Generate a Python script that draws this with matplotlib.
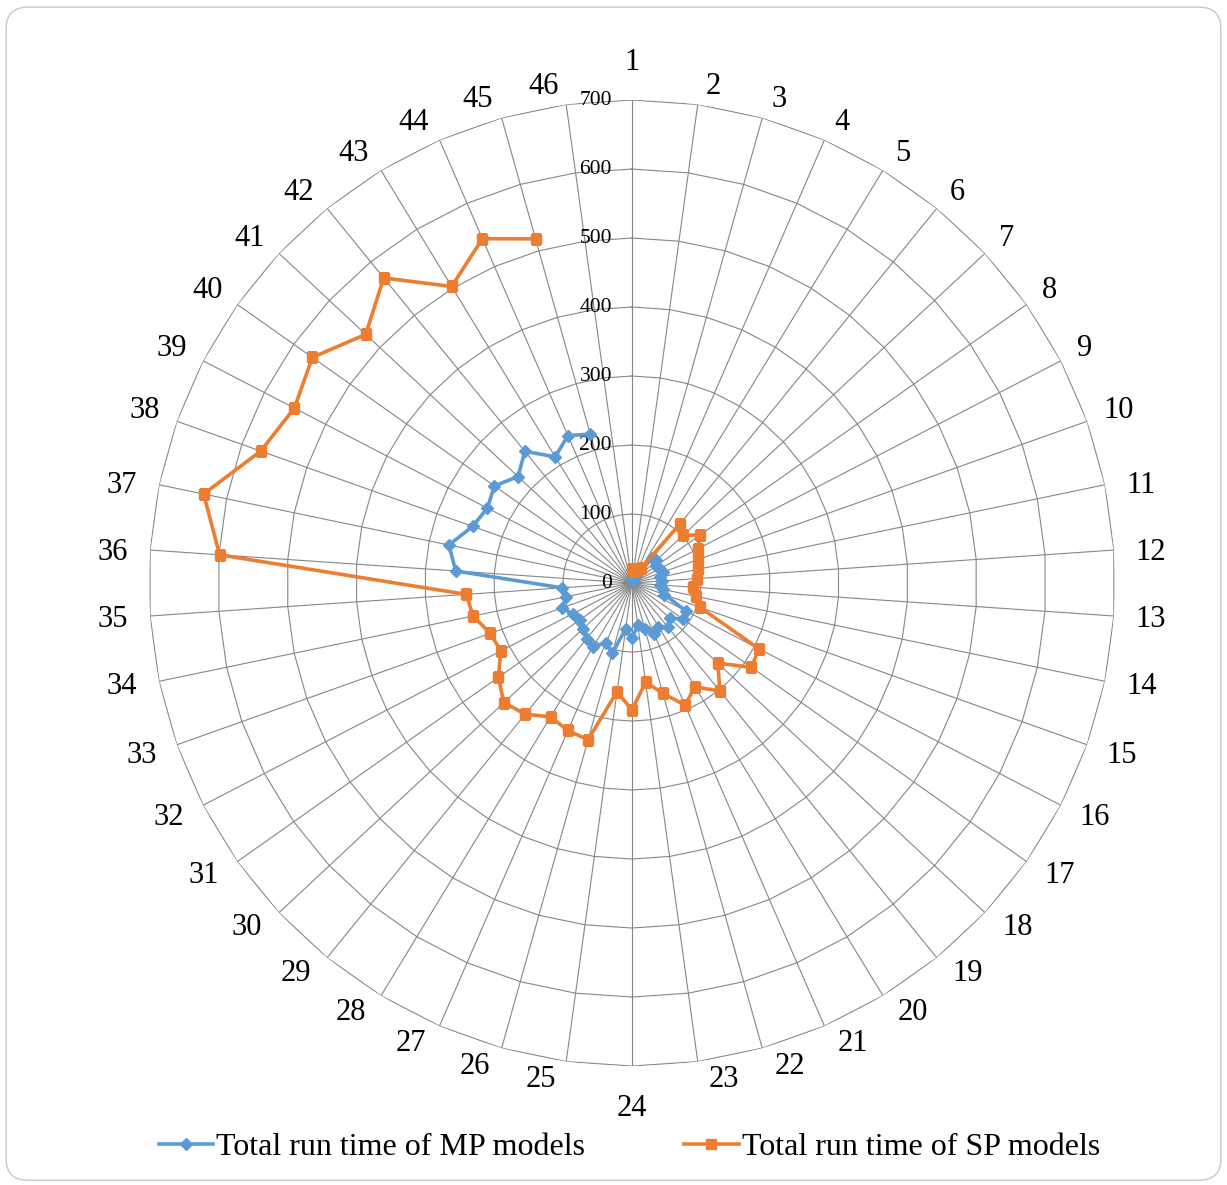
import numpy as np
import matplotlib
matplotlib.use("Agg")
import matplotlib.pyplot as plt
from matplotlib.patches import FancyBboxPatch
from matplotlib.transforms import offset_copy

plt.rcParams['font.family'] = ['Liberation Serif', 'DejaVu Serif']

# categories 1..46, value for 46 is blank in the source
categories = [str(i) for i in range(1, 47)]

mp_times = [5, 5, 5, 8, 12, 47, 48, 42, 45, 47, 42, 43, 40, 46, 50,
            89, 90, 75, 82, 74, 80, 69, 62, 80, 67, 106, 94, 108, 104, 97,
            92, 97, 108, 97, 102, 256, 271, 245, 236, 244, 226, 246, 214, 233, 224,
            np.nan]

sp_times = [20, 18, 20, 22, 25, 110, 101, 121, 108, 102, 98, 94, 89, 95, 104,
            207, 212, 170, 202, 176, 193, 166, 145, 184, 159, 236, 233, 227, 245, 254,
            237, 214, 218, 235, 241, 599, 634, 571, 551, 567, 528, 570, 503, 544, 518,
            np.nan]

rings = [0, 100, 200, 300, 400, 500, 600, 700]

fig = plt.figure(figsize=(12.27, 11.85), dpi=100)

# rounded frame around the chart
frame = FancyBboxPatch((0.005, 0.004), 0.99, 0.99, boxstyle="round,pad=0,rounding_size=0.018",
                       transform=fig.transFigure, facecolor='none', edgecolor='#c8c8c8',
                       linewidth=1.0, zorder=-1)
fig.patches.append(frame)

ax = fig.add_axes([0.1214, 0.1004, 0.7873, 0.8152], projection='polar')
ax.set_theta_zero_location('N')
ax.set_theta_direction(-1)
ax.patch.set_alpha(0)

n = len(categories)
ang = np.arange(n) * 2 * np.pi / n
ang_closed = np.append(ang, ang[0])

grid_col = '#868686'
# polygon rings like Excel
for r in rings[1:]:
    ax.plot(ang_closed, [r] * (n + 1), color=grid_col, lw=0.8, zorder=1)

ax.set_ylim(0, 700)
ax.yaxis.grid(False)
ax.set_yticks(rings)
ax.set_yticklabels([])
ax.xaxis.grid(True, color=grid_col, lw=0.8)
ax.spines['polar'].set_visible(False)
ax.set_xticks(ang)
ax.set_xticklabels([])
ax.tick_params(axis='x', length=0)

# category labels, anchored outside the outer ring and aligned away from the centre
px = 700 / 483.0
for a, lab in zip(ang, categories):
    s, c = np.sin(a), np.cos(a)
    side = 1 if s > 0 else -1
    if abs(s) < 0.05:
        ha, rr, dx = 'center', 513 * px, 0
    else:
        ha = 'left' if s > 0 else 'right'
        rr = 494 * px
        dx = 6 * side
    if abs(c) < 0.25:
        va, dy = 'center', -3
        dx = 11 * side
    elif c > 0:
        va, dy = 'baseline', 0
    else:
        va = 'top'
        if abs(s) < 0.05:
            dy = 2
        else:
            dy = 7
            dx = 9 * side
    tr = offset_copy(ax.transData, fig=fig, x=dx, y=dy, units='dots')
    ax.text(a, rr, lab, ha=ha, va=va, fontsize=22, transform=tr, clip_on=False)

# radial value labels along the first spoke
lab_tr = offset_copy(ax.transData, fig=fig, x=-20, y=0, units='dots')
for r in rings:
    ax.text(0, r, str(r), ha='right', va='center', fontsize=15.5, transform=lab_tr)

ax.plot(ang, mp_times, color='#5B9BD5', lw=2.6, marker='D', markersize=6.5,
        label='Total run time of MP models', zorder=3)
ax.plot(ang, sp_times, color='#ED7D31', lw=2.6, marker='s', markersize=6.5,
        label='Total run time of SP models', zorder=3)

fig.legend(loc='center', bbox_to_anchor=(0.513, 0.032), ncol=2, frameon=False,
           fontsize=23, handlelength=1.7, handletextpad=0.1, columnspacing=3.1)

fig.savefig('out.png', dpi=100)
